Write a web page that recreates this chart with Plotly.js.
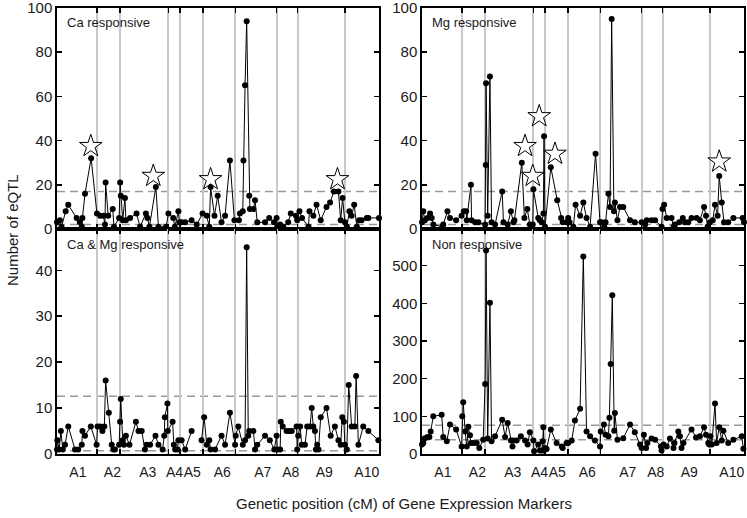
<!DOCTYPE html>
<html><head><meta charset="utf-8">
<script src="https://cdn.plot.ly/plotly-3.0.1.min.js"></script>
<style>html,body{margin:0;padding:0;background:#fff}#chart{width:747px;height:518px}</style>
</head><body><div id="chart"></div>
<script>
// Chromosome labels / positions (cM on a cumulative 0-1000 scale)
const chromLabels = ['A1','A2','A3','A4','A5','A6','A7','A8','A9','A10'];
const chromLabelPos = [65,172,282,365,420,513,639,726,830,962];
const chromBounds = [124,196,346,382,454,554,682,747,895];

// Ca responsive
const caX = [0,9,14,27,35,61,71,77,79,87,106,124,134,144,149,151,159,173,177,193,196,198,204,211,214,227,247,258,276,281,287,307,315,339,346,361,366,377,380,387,398,418,434,452,465,473,477,489,499,511,522,537,551,565,568,577,579,584,589,597,599,610,615,622,646,659,674,682,684,693,703,718,726,742,746,753,761,781,784,796,806,819,837,848,860,874,881,887,894,900,908,915,923,931,938,946,962,967,1000];
const caY = [3,4,1,8,11,5,3,1,5,16,32,7,6,6,2,21,6,9,1,5,21,15,4,14,4,5,7,1,7,5,1,19,1,1,7,5,1,8,3,3,3,4,2,7,6,1,19,6,15,3,6,31,4,4,7,8,31,65,94,15,9,9,13,3,3,5,3,5,1,2,1,3,7,6,4,8,5,1,8,6,11,4,10,12,17,17,4,14,3,1,8,6,11,1,4,4,5,5,5];
const caStarX = [105,299,477,871];
const caStarY = [37.5,24,22.5,22.5];
const caThresh = [2,17];

// Mg responsive
const mgX = [0,4,9,17,25,30,35,64,66,79,87,106,123,130,137,139,152,154,165,175,196,198,199,204,211,216,227,249,253,266,276,284,287,310,318,327,335,344,346,361,366,372,377,379,382,400,420,432,437,449,454,458,470,477,491,501,511,522,539,553,558,566,570,579,584,589,596,599,607,615,625,646,661,682,693,698,713,724,744,747,752,760,775,781,786,799,810,817,827,837,853,863,876,882,887,894,903,910,918,923,931,938,951,967,996,1000];
const mgY = [3,8,4,5,7,5,2,1,2,8,5,4,6,8,8,4,20,4,3,3,2,29,66,6,69,3,2,17,3,2,8,3,4,30,5,9,2,2,18,5,4,3,7,42,1,28,13,5,3,3,5,3,1,11,6,12,5,1,34,3,3,1,3,16,10,95,8,12,4,10,10,4,3,3,2,4,4,4,1,9,11,5,5,1,2,3,5,3,3,5,5,4,10,6,1,3,4,11,6,24,12,3,3,5,5,3];
const mgStarX = [320,344,364,413,923];
const mgStarY = [37.5,24,51,34,30.5];
const mgThresh = [2,17];

// Ca & Mg responsive
const camgX = [0,1,7,12,18,25,35,56,66,77,79,87,105,123,126,134,141,147,151,161,170,175,180,193,196,198,204,208,214,225,245,253,263,273,278,289,306,315,328,333,335,343,344,359,363,367,374,377,387,398,418,430,449,457,465,473,477,491,511,522,537,553,555,563,577,584,589,594,597,610,615,622,646,661,675,682,684,693,695,701,713,721,729,744,746,749,755,760,770,777,786,791,796,801,804,808,812,819,837,850,863,874,881,886,891,894,900,906,915,925,929,936,951,967,998];
const camgY = [1,3,1,5,1,2,6,1,1,2,5,4,6,2,6,6,5,6,16,9,2,1,1,2,7,12,3,2,4,2,7,5,5,1,2,2,4,2,1,4,8,11,5,7,2,1,1,3,3,1,5,null,3,8,2,3,1,1,4,2,9,2,4,6,2,3,45,4,5,5,1,2,4,3,1,4,1,1,7,6,5,5,5,6,1,4,6,2,2,6,6,10,6,5,1,2,1,8,10,4,6,3,2,8,7,2,1,15,6,6,17,2,6,5,3];
const camgThresh = [0.7,12.6];

// Non responsive
const nonX = [0,4,9,17,23,27,35,61,66,77,87,106,123,125,128,134,139,144,149,152,161,170,178,190,196,199,204,211,216,227,249,258,266,276,281,284,294,307,320,328,335,346,348,361,366,372,375,377,379,382,387,400,418,434,437,449,454,465,475,491,501,511,522,537,553,555,565,570,579,582,586,591,597,599,607,625,646,661,677,682,689,696,700,713,724,742,744,750,760,770,781,784,796,801,806,812,837,851,863,876,882,889,892,896,900,910,915,923,931,936,951,967,993,998];
const nonY = [25,29,42,45,45,60,100,104,45,34,78,65,20,100,137,60,20,72,50,29,29,29,16,38,186,540,41,401,34,47,91,45,82,36,20,36,36,47,36,25,58,36,7,25,9,9,34,71,9,16,13,65,29,20,16,29,29,36,89,120,524,60,47,36,20,60,78,51,47,96,239,421,62,109,38,42,78,58,25,16,51,16,29,41,38,20,9,25,20,41,16,29,60,47,16,29,65,44,47,71,51,29,25,47,25,134,29,71,36,62,29,38,47,14];
const nonThresh = [38,76];

const panelNames = ['Ca responsive','Mg responsive','Ca & Mg responsive','Non responsive'];

const W = 747, H = 518;
const xDomL = [57/W, 379/W], xDomR = [422/W, 744/W];
const yDomT = [1-229/H, 1-8/H], yDomB = [1-454/H, 1-229/H];

function lineTrace(x, y, n) {
  return {x, y, xaxis: 'x'+n, yaxis: 'y'+n, type:'scatter', mode:'lines+markers',
    line:{color:'#000', width:1}, marker:{color:'#000', size:6}, cliponaxis:false, hoverinfo:'x+y'};
}
function starTrace(x, y, n) {
  return {x, y, xaxis: 'x'+n, yaxis: 'y'+n, type:'scatter', mode:'markers',
    marker:{symbol:'star', size:17, color:'#fff', line:{color:'#000', width:1}}, cliponaxis:false};
}
const data = [
  lineTrace(caX, caY, ''), starTrace(caStarX, caStarY, ''),
  lineTrace(mgX, mgY, '2'), starTrace(mgStarX, mgStarY, '2'),
  lineTrace(camgX, camgY, '3'),
  lineTrace(nonX, nonY, '4')
];

function xAx(domain, anchor, showLabels) {
  return {domain, anchor, range:[0,1000], tickmode:'array', tickvals:chromLabelPos, ticktext:chromLabels,
    ticks:'', showticklabels:showLabels, tickangle:0, ticklabeloverflow:'allow', ticklabelstandoff:4,
    showgrid:false, zeroline:false, showline:true,
    linecolor:'#000', linewidth:1.7, mirror:'ticks', tickfont:{size:14, color:'#1a1a1a'},
    minor:{tickmode:'array', tickvals:chromBounds, ticks:'inside', ticklen:5, tickwidth:1.5, tickcolor:'#000',
      showgrid:true, gridcolor:'#c8c8c8', gridwidth:2}};
}
function yAx(domain, anchor, range, tickvals) {
  return {domain, anchor, range, tickmode:'array', tickvals, ticks:'inside', ticklen:5, tickwidth:1.5,
    tickcolor:'#000', showline:true, linecolor:'#000', linewidth:1.7, mirror:'ticks', showgrid:false,
    ticklabeloverflow:'allow', zeroline:false, tickfont:{size:15, color:'#1a1a1a'}};
}

const shapes = [];
function addThresh(vals, n) {
  vals.forEach(v => shapes.push({type:'line', xref:'x'+n+' domain', yref:'y'+n, x0:0, x1:1, y0:v, y1:v,
    line:{color:'#9a9a9a', width:1.5, dash:'8px,5px'}, layer:'below'}));
}
addThresh(caThresh, ''); addThresh(mgThresh, '2'); addThresh(camgThresh, '3'); addThresh(nonThresh, '4');

const annotations = panelNames.map((t, i) => {
  const n = i === 0 ? '' : String(i+1);
  return {text:t, xref:'x'+n+' domain', yref:'y'+n+' domain', x:0, y:1, xshift:8, yshift:-15,
    xanchor:'left', yanchor:'middle', showarrow:false, font:{size:13, color:'#1a1a1a'}};
});
annotations.push({text:'Number of eQTL', xref:'paper', yref:'paper', x:12/W, y:1-230/H, textangle:-90,
  showarrow:false, xanchor:'center', yanchor:'middle', font:{size:15, color:'#1a1a1a'}});
annotations.push({text:'Genetic position (cM) of Gene Expression Markers', xref:'paper', yref:'paper',
  x:404/W, y:1-503/H, showarrow:false, xanchor:'center', yanchor:'middle', font:{size:15, color:'#1a1a1a'}});

const layout = {
  width:W, height:H, margin:{l:0, r:0, t:0, b:0}, showlegend:false,
  paper_bgcolor:'#fff', plot_bgcolor:'#fff',
  font:{family:'Liberation Sans, Arial, sans-serif', color:'#1a1a1a'},
  xaxis: xAx(xDomL, 'y', false), yaxis: yAx(yDomT, 'x', [0,100.01], [0,20,40,60,80,100]),
  xaxis2: xAx(xDomR, 'y2', false), yaxis2: yAx(yDomT, 'x2', [0,100.01], [0,20,40,60,80,100]),
  xaxis3: xAx(xDomL, 'y3', true), yaxis3: yAx(yDomB, 'x3', [0,49], [0,10,20,30,40]),
  xaxis4: xAx(xDomR, 'y4', true), yaxis4: yAx(yDomB, 'x4', [0,597], [0,100,200,300,400,500]),
  shapes, annotations
};
Plotly.newPlot('chart', data, layout, {staticPlot:true});
</script></body></html>
